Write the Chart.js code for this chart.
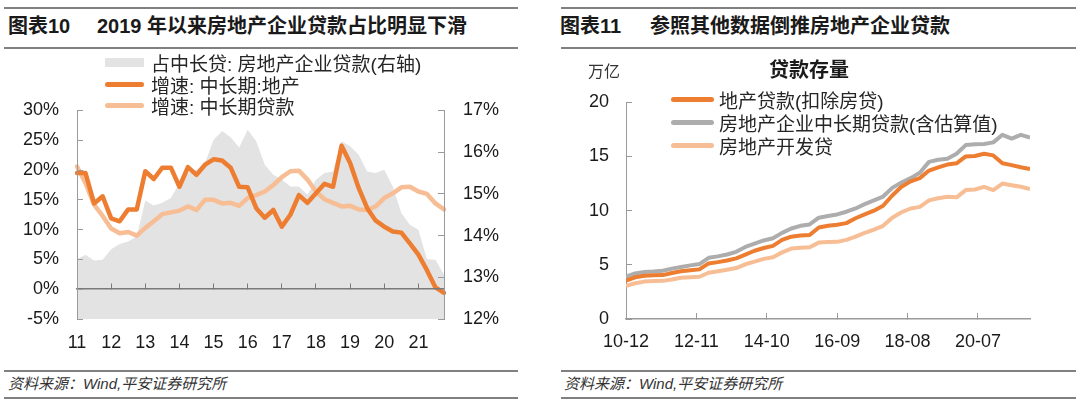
<!DOCTYPE html>
<html>
<head>
<meta charset="utf-8">
<script src="https://cdn.jsdelivr.net/npm/chart.js@4.4.1/dist/chart.umd.min.js"></script>
<style>
  body { margin: 0; width: 1080px; height: 403px; position: relative; overflow: hidden; background: #fff;
         font-family: "Liberation Sans", "Noto Sans CJK SC", sans-serif; color: #1a1a1a; }
  .rule { position: absolute; height: 2px; background: #808080; }
  .title { position: absolute; top: 12px; font-size: 20px; line-height: 28px; font-weight: bold; white-space: nowrap; }
  .src { position: absolute; top: 374px; font-size: 15px; line-height: 20px; font-style: italic; color: #333; white-space: nowrap; }
  canvas { position: absolute; top: 0; }
  .legend { position: absolute; font-size: 19px; color: #262626; white-space: nowrap; }
  .legend div { display: flex; align-items: center; }
  .legend .sw { display: inline-block; }
  .note { position: absolute; white-space: nowrap; }
</style>
</head>
<body>
<!-- 左图 -->
<div class="rule" style="left:4px;width:514px;top:6.5px"></div>
<div class="title" style="left:8px">图表10</div>
<div class="title" style="left:97px">2019 年以来房地产企业贷款占比明显下滑</div>
<div class="rule" style="left:4px;width:514px;top:47px"></div>
<canvas id="shareChart" width="540" height="365" style="left:0"></canvas>
<div class="legend" id="shareLegend" style="left:105px;top:52px"></div>
<div class="rule" style="left:4px;width:514px;top:370px"></div>
<div class="src" style="left:8px">资料来源：Wind,平安证券研究所</div>
<div class="rule" style="left:4px;width:514px;top:397px"></div>

<!-- 右图 -->
<div class="rule" style="left:561px;width:515px;top:6.5px"></div>
<div class="title" style="left:560px">图表11</div>
<div class="title" style="left:650px">参照其他数据倒推房地产企业贷款</div>
<div class="rule" style="left:561px;width:515px;top:47px"></div>
<canvas id="stockChart" width="540" height="365" style="left:540px"></canvas>
<div class="note" style="left:588px;top:61px;font-size:16px;line-height:22px;color:#333">万亿</div>
<div class="note" style="left:769px;top:57px;font-size:20px;line-height:26px;font-weight:bold">贷款存量</div>
<div class="legend" id="stockLegend" style="left:671px;top:88px"></div>
<div class="rule" style="left:561px;width:515px;top:370px"></div>
<div class="src" style="left:564px">资料来源：Wind,平安证券研究所</div>
<div class="rule" style="left:561px;width:515px;top:397px"></div>

<script>
// ---- 图表10：季度数据 11Q1 - 21Q4 ----
const yearLabels = ['11', '12', '13', '14', '15', '16', '17', '18', '19', '20', '21'];
const quarters = [];
yearLabels.forEach(y => { for (let q = 1; q <= 4; q++) quarters.push(y + 'Q' + q); });

// 增速: 中长期:地产 (%)
const realEstateGrowth = [19.5, 19.5, 14.4, 15.6, 11.9, 11.4, 13.4, 13.4, 19.8, 18.5, 20.4, 20.4,
  17.2, 20.5, 19.2, 20.9, 21.8, 21.6, 20.4, 17.2, 17.1, 13.6, 12.0, 13.3, 10.5, 12.5, 15.8, 14.5,
  16.1, 17.7, 17.2, 24.1, 21.2, 17.0, 13.6, 11.5, 10.5, 9.7, 9.5, 7.7, 5.8, 3.2, 0.3, -0.6];
// 增速: 中长期贷款 (%)
const mltLoanGrowth = [20.6, 17.8, 14.2, 12.3, 10.2, 9.4, 9.6, 9.0, 10.3, 11.4, 12.6, 12.9,
  13.2, 13.9, 13.3, 15.0, 15.0, 14.4, 14.5, 14.0, 15.3, 15.8, 16.4, 17.5, 18.8, 19.8, 19.9, 18.4,
  16.4, 15.1, 14.5, 13.9, 14.0, 13.4, 13.3, 13.9, 15.3, 16.1, 17.1, 17.2, 16.4, 16.0, 14.4, 13.4];
// 占中长贷: 房地产企业贷款 (%, 右轴)
const shareOfMlt = [13.44, 13.54, 13.40, 13.42, 13.67, 13.80, 13.86, 13.98, 14.84, 14.72, 14.79, 14.90,
  15.26, 15.50, 15.58, 15.74, 16.30, 16.51, 16.36, 16.11, 16.54, 16.26, 15.70, 15.46, 15.34, 15.18,
  15.18, 14.98, 15.34, 15.50, 15.54, 16.26, 16.14, 15.94, 15.54, 15.50, 15.58, 15.18, 14.54, 14.26,
  14.14, 13.43, 13.42, 13.06];

// ---- 图表11：季度数据 10-12 起 (万亿) ----
const stockTickLabels = ['10-12', '12-11', '14-10', '16-09', '18-08', '20-07'];
const stockDates = [];
for (let t = 2010 * 12 + 11; stockDates.length < 45; t += 3) {
  stockDates.push(String(Math.floor(t / 12)).slice(2) + '-' + String(t % 12 + 1).padStart(2, '0'));
}
const devLoansExMortgage = [3.55, 3.85, 4.0, 4.03, 4.05, 4.25, 4.4, 4.5, 4.58, 5.13,
  5.25, 5.4, 5.6, 5.95, 6.3, 6.55, 6.75, 7.3, 7.6, 7.7,
  7.75, 8.45, 8.6, 8.7, 8.85, 9.3, 9.65, 10.0, 10.45, 11.4,
  12.2, 12.7, 13.0, 13.7, 14.0, 14.25, 14.37, 15.0, 15.04, 15.25,
  15.1, 14.37, 14.2, 14.0, 13.85];
const firmMltLoans = [3.9, 4.2, 4.33, 4.38, 4.45, 4.65, 4.8, 4.95, 5.07, 5.65,
  5.78, 5.95, 6.2, 6.65, 6.95, 7.25, 7.45, 7.95, 8.35, 8.6,
  8.73, 9.35, 9.5, 9.65, 9.9, 10.2, 10.6, 10.95, 11.3, 12.1,
  12.6, 13.0, 13.5, 14.5, 14.7, 14.8, 15.25, 16.05, 16.12, 16.15,
  16.3, 17.0, 16.65, 17.0, 16.75];
const devLoans = [3.05, 3.3, 3.45, 3.5, 3.52, 3.65, 3.8, 3.86, 3.9, 4.27,
  4.4, 4.55, 4.7, 5.05, 5.3, 5.55, 5.7, 6.15, 6.5, 6.58,
  6.62, 7.05, 7.1, 7.12, 7.3, 7.6, 7.95, 8.25, 8.6, 9.35,
  9.85, 10.2, 10.35, 10.95, 11.15, 11.28, 11.23, 11.9, 11.95, 12.2,
  11.9, 12.5, 12.35, 12.2, 12.0];

const ORANGE = '#ED7D31';
const LIGHT = '#F7BE96';
const GRAY_LINE = '#ADADAD';
const AREA = '#E3E3E3';
const AXIS = '#9a9a9a';
const ZERO = '#7a7a7a';
const tickFont = { family: '"Liberation Sans", Arial, sans-serif', size: 18 };

function monthIndex(label) {
  const [yy, mm] = label.split('-').map(Number);
  return (yy - 10) * 12 + (mm - 12);
}

function keepFirstQuarters(scale) {
  scale.ticks = scale.ticks.filter(t => quarters[t.value].endsWith('Q1'));
}

function buildLegend(el, items) {
  items.forEach(it => {
    const row = document.createElement('div');
    row.style.height = it.rowHeight + 'px';
    const sw = document.createElement('span');
    sw.className = 'sw';
    sw.style.width = it.w + 'px';
    sw.style.height = it.h + 'px';
    sw.style.background = it.color;
    sw.style.borderRadius = it.round ? '3px' : '0';
    sw.style.marginRight = it.gap + 'px';
    const txt = document.createElement('span');
    txt.textContent = it.label;
    row.appendChild(sw);
    row.appendChild(txt);
    el.appendChild(row);
  });
}

const shareChart = new Chart(document.getElementById('shareChart'), {
  type: 'line',
  data: {
    labels: quarters,
    datasets: [
      { label: '增速: 中长期:地产', data: realEstateGrowth, yAxisID: 'y', borderColor: ORANGE,
        borderWidth: 4.5, pointRadius: 0, tension: 0, borderJoinStyle: 'round', borderCapStyle: 'round', order: 1 },
      { label: '增速: 中长期贷款', data: mltLoanGrowth, yAxisID: 'y', borderColor: LIGHT,
        borderWidth: 4.5, pointRadius: 0, tension: 0, borderJoinStyle: 'round', borderCapStyle: 'round', order: 2 },
      { label: '占中长贷: 房地产企业贷款(右轴)', data: shareOfMlt, yAxisID: 'y1', borderWidth: 0,
        backgroundColor: AREA, fill: 'start', pointRadius: 0, tension: 0, order: 3 }
    ]
  },
  options: {
    responsive: false,
    animation: false,
    events: [],
    layout: { padding: { top: 110.5, left: 0, right: 0, bottom: 0 } },
    plugins: { legend: { display: false }, tooltip: { enabled: false } },
    scales: {
      x: {
        type: 'category', offset: false,
        border: { display: false },
        grid: { display: false, drawTicks: false },
        ticks: { autoSkip: false, maxRotation: 0, padding: 13, font: tickFont, color: '#1a1a1a',
          callback: function (v) { return this.getLabelForValue(v).slice(0, 2); } },
        afterBuildTicks: keepFirstQuarters,
        afterFit: s => { s.height = 46; }
      },
      // 0% 处的横轴及年份刻度（画在面积图之上）
      x0: {
        type: 'category', offset: false, position: { y: 0 },
        border: { color: ZERO, width: 1.5, z: 1 },
        grid: { drawOnChartArea: false, tickLength: -6, color: ZERO, z: 1 },
        ticks: { display: false },
        afterBuildTicks: keepFirstQuarters
      },
      y: {
        position: 'left', min: -5, max: 30,
        border: { color: AXIS, z: 1 },
        grid: { drawOnChartArea: false, tickLength: -6, color: AXIS, z: 1 },
        ticks: { stepSize: 5, padding: 24, font: tickFont, color: '#1a1a1a', callback: v => v + '%' },
        afterFit: s => { s.width = 77; }
      },
      y1: {
        position: 'right', min: 12, max: 17,
        border: { color: AXIS, z: 1 },
        grid: { drawOnChartArea: false, tickLength: -6, color: AXIS, z: 1 },
        ticks: { stepSize: 1, padding: 25, font: tickFont, color: '#1a1a1a', callback: v => v + '%' },
        afterFit: s => { s.width = 96; }
      }
    }
  }
});

const stockChart = new Chart(document.getElementById('stockChart'), {
  type: 'line',
  data: {
    labels: stockDates.map(monthIndex),
    datasets: [
      { label: '地产贷款(扣除房贷)', data: devLoansExMortgage, borderColor: ORANGE, borderWidth: 4,
        pointRadius: 0, tension: 0, borderJoinStyle: 'round', order: 1 },
      { label: '房地产企业中长期贷款(含估算值)', data: firmMltLoans, borderColor: GRAY_LINE, borderWidth: 4,
        pointRadius: 0, tension: 0, borderJoinStyle: 'round', order: 2 },
      { label: '房地产开发贷', data: devLoans, borderColor: LIGHT, borderWidth: 4,
        pointRadius: 0, tension: 0, borderJoinStyle: 'round', order: 3 }
    ]
  },
  options: {
    responsive: false,
    animation: false,
    events: [],
    layout: { padding: { top: 102.3, left: 0, right: 50, bottom: 0 } },
    plugins: { legend: { display: false }, tooltip: { enabled: false } },
    scales: {
      x: {
        type: 'linear', min: 0, max: 132,
        border: { color: AXIS, width: 1.5 },
        grid: { drawOnChartArea: false, tickLength: -6, color: AXIS },
        ticks: { padding: 18, maxRotation: 0, font: tickFont, color: '#1a1a1a',
          callback: v => stockTickLabels.find(l => monthIndex(l) === v) },
        afterBuildTicks: s => { s.ticks = stockTickLabels.map(l => ({ value: monthIndex(l) })); },
        afterFit: s => { s.height = 46; }
      },
      y: {
        min: 0, max: 20,
        border: { color: AXIS },
        grid: { drawOnChartArea: false, tickLength: -6, color: AXIS },
        ticks: { stepSize: 5, padding: 23, font: tickFont, color: '#1a1a1a' },
        afterFit: s => { s.width = 86; }
      }
    }
  }
});

buildLegend(document.getElementById('shareLegend'), [
  { label: shareChart.data.datasets[2].label, color: AREA, w: 39, h: 9, gap: 7, rowHeight: 21.5 },
  { label: shareChart.data.datasets[0].label, color: ORANGE, w: 39, h: 5, gap: 7, rowHeight: 21.5, round: true },
  { label: shareChart.data.datasets[1].label, color: LIGHT, w: 39, h: 5, gap: 7, rowHeight: 21.5, round: true }
]);
buildLegend(document.getElementById('stockLegend'), stockChart.data.datasets.map(ds => (
  { label: ds.label, color: ds.borderColor, w: 43, h: 5, gap: 5, rowHeight: 23.2, round: true }
)));
</script>
</body>
</html>
